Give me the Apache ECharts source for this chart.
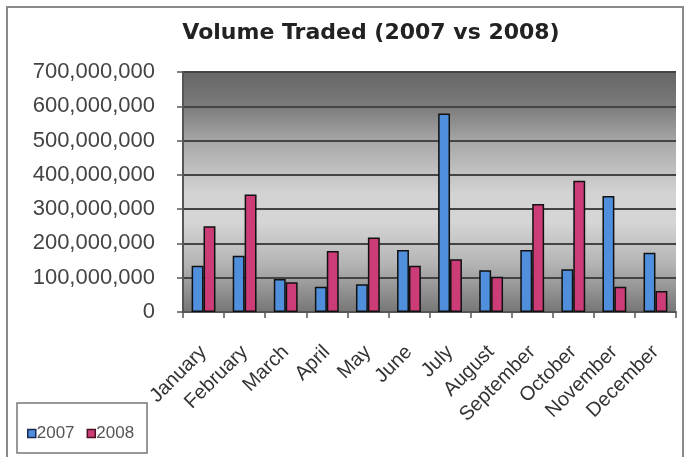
<!DOCTYPE html>
<html><head><meta charset="utf-8">
<script src="https://cdn.jsdelivr.net/npm/echarts@6/dist/echarts.min.js"></script>
<style>html,body{margin:0;padding:0;background:#fff}#c{width:691px;height:457px}</style>
</head><body><div id="c"></div>
<script>
var months = ['January','February','March','April','May','June','July','August','September','October','November','December'];
var vol2007 = [135e6,164e6,96e6,74e6,81e6,181e6,579e6,122e6,181e6,125e6,338e6,173e6];
var vol2008 = [250e6,343e6,87e6,178e6,217e6,135e6,154e6,103e6,315e6,383e6,74e6,61e6];
var yTicks = [0,100e6,200e6,300e6,400e6,500e6,600e6,700e6];

function fmt(v){ return String(Math.round(v)).replace(/\B(?=(\d{3})+(?!\d))/g, ','); }

var chart = echarts.init(document.getElementById('c'));
chart.setOption({
  animation:false,
  backgroundColor:'#fff',
  title:{text:'Volume Traded (2007 vs 2008)', left:366, textAlign:'center', top:17,
    textStyle:{fontFamily:'DejaVu Sans', fontSize:22, fontWeight:'bold', color:'#222'}},
  graphic:[{type:'rect', shape:{x:7,y:7,width:676,height:460}, style:{fill:'none', stroke:'#8a8a8a', lineWidth:2}, z:-10},
           {type:'rect', shape:{x:17,y:403,width:130,height:50}, style:{fill:'#fff', stroke:'#777', lineWidth:1.5}, z:0}],
  legend:{left:22, top:420, itemWidth:8, itemHeight:8, itemGap:12, icon:'rect',
    textStyle:{fontFamily:'Liberation Sans, Arial', fontSize:17, color:'#555', padding:[0,0,0,-4]},
    data:[{name:'2007', itemStyle:{borderColor:'#1b2a55', borderWidth:1.5}},
          {name:'2008', itemStyle:{borderColor:'#4a1020', borderWidth:1.5}}]},
  grid:{left:183, right:15, top:72, bottom:145, show:true, borderWidth:0,
    backgroundColor:{type:'linear', x:0, y:0, x2:0, y2:1, colorStops:[
      {offset:0, color:'#666'},{offset:0.14, color:'#7a7a7a'},{offset:0.3, color:'#aaa'},
      {offset:0.5, color:'#d2d2d2'},{offset:0.62, color:'#d6d6d6'},{offset:0.8, color:'#b4b4b4'},{offset:1, color:'#767676'}]}},
  xAxis:{type:'category', data:months,
    axisLine:{lineStyle:{color:'#555', width:2}},
    axisTick:{show:true, length:6, lineStyle:{color:'#555', width:1.5}},
    axisLabel:{rotate:45, margin:37, interval:0, fontFamily:'Liberation Sans, Arial', fontSize:20, color:'#333'}},
  yAxis:{type:'value', min:0, max:700e6, interval:100e6,
    axisLine:{show:true, lineStyle:{color:'#555', width:2}},
    axisTick:{show:true, length:6, lineStyle:{color:'#555', width:1.5}},
    splitLine:{lineStyle:{color:'#444', width:2}},
    axisLabel:{margin:28, fontFamily:'Liberation Sans, Arial', fontSize:22, color:'#444',
      formatter:function(v){ return yTicks.indexOf(v) >= 0 ? fmt(v) : ''; }}},
  series:[
    {name:'2007', type:'bar', data:vol2007, barGap:'0%', barCategoryGap:'42%',
      itemStyle:{color:'#4f8fdc', borderColor:'#111', borderWidth:1.5}},
    {name:'2008', type:'bar', data:vol2008, barGap:'0%', barCategoryGap:'42%',
      itemStyle:{color:'#cc3d78', borderColor:'#111', borderWidth:1.5}}
  ]
});
</script></body></html>
